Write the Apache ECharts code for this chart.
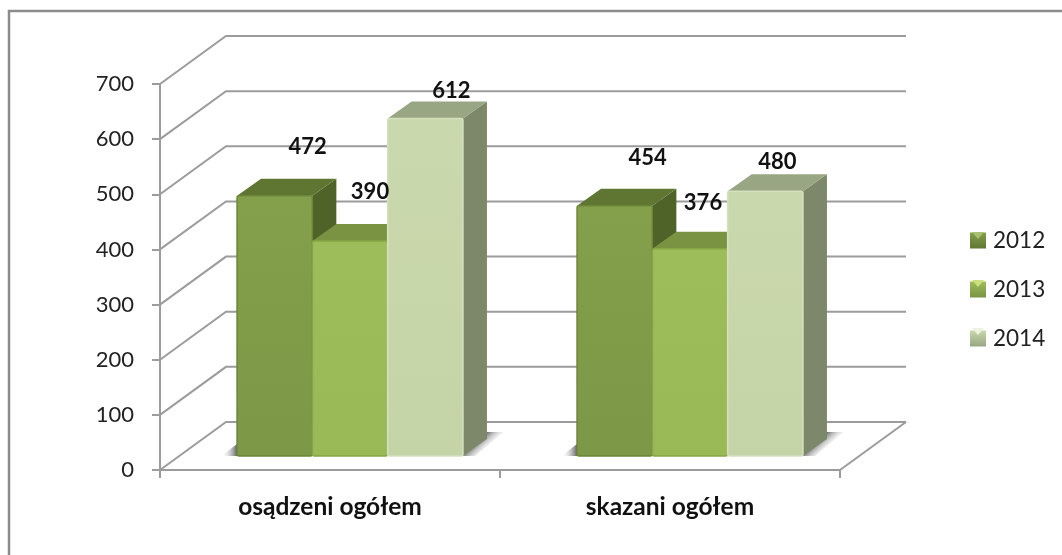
<!DOCTYPE html>
<html>
<head>
<meta charset="utf-8">
<style>
  html, body { margin: 0; padding: 0; background: #fff; }
  #chart { width: 1062px; height: 555px; }
</style>
<script src="https://cdn.jsdelivr.net/npm/echarts@6/dist/echarts.min.js"></script>
</head>
<body>
<div id="chart"></div>
<script>
const categories = ['osądzeni ogółem', 'skazani ogółem']
const years = ['2012', '2013', '2014']
const values2012 = [472, 454]
const values2013 = [390, 376]
const values2014 = [612, 480]
const yTicks = [0, 100, 200, 300, 400, 500, 600, 700]

// labels were placed by hand in the original, offset from the bar's front top centre
const labelShift = [
  [[33, -49], [33, -48]],
  [[20, -49], [13, -46]],
  [[26, -28], [12, -29]]
]

const font = 'Lato'
const lineColor = '#9C9C9C'
const wallDx = 66
const wallDy = -48
const barDx = 24
const barDy = -17
const barWidth = 75.3
const frontDx = 20 // front of the bars sits a bit into the floor
const frontDy = -14

const looks = [
  { front: ['#84A04B', '#7C9746'], edge: '#6C8639', top: '#5F7632', side: '#4F6228' },
  { front: ['#9DBD5B', '#99B956'], edge: '#86A546', top: '#7A9343', side: '#748C45' },
  { front: ['#CAD8AD', '#C5D4A6'], edge: '#D5E0BE', top: '#98A683', side: '#7D8769' }
]

function wallLines(params, api) {
  const cs = params.coordSys
  const y = api.coord([0, api.value(0)])[1]
  const x0 = cs.x
  const x1 = cs.x + cs.width
  const children = [{
    type: 'polyline',
    shape: { points: [[x0, y], [x0 + wallDx, y + wallDy], [x1 + wallDx, y + wallDy]] },
    style: { fill: null, stroke: lineColor, lineWidth: 2 }
  }]
  if (api.value(0) === 0) {
    children.push({
      type: 'line',
      shape: { x1: x1, y1: y, x2: x1 + wallDx, y2: y + wallDy },
      style: { stroke: lineColor, lineWidth: 2 }
    })
  }
  return { type: 'group', children: children }
}

function bar3d(idx) {
  const look = looks[idx]
  return function(params, api) {
    const cat = api.value(0)
    const val = api.value(1)
    const centre = api.coord([cat, 0])
    const top = api.coord([cat, val])
    const x = centre[0] + frontDx + (idx - 1.5) * barWidth
    const base = centre[1] + frontDy
    const y = top[1] + frontDy
    const r = x + barWidth
    const children = []

    // floor shadow, only seen on the outer sides of the group
    if (idx === 2) {
      children.push({
        type: 'polygon',
        shape: { points: [[r, base], [r + barDx, base + barDy - 7], [r + 41, base + barDy - 7], [r + 12, base]] },
        style: {
          fill: new echarts.graphic.LinearGradient(r + 14, base - 16, r + 25, base - 4, [
            { offset: 0, color: 'rgba(70,70,70,0.9)' },
            { offset: 1, color: 'rgba(255,255,255,0)' }
          ], true)
        }
      })
    }
    if (idx === 0) {
      children.push({
        type: 'polygon',
        shape: { points: [[x - 16, base], [x, base - 12], [x, base]] },
        style: {
          fill: new echarts.graphic.LinearGradient(x, base, x - 16, base, [
            { offset: 0, color: 'rgba(70,70,70,0.85)' },
            { offset: 1, color: 'rgba(255,255,255,0)' }
          ], true)
        }
      })
    }

    children.push({
      type: 'polygon',
      shape: { points: [[r, y], [r + barDx, y + barDy], [r + barDx, base + barDy], [r, base]] },
      style: { fill: look.side }
    })
    children.push({
      type: 'polygon',
      shape: { points: [[x, y], [x + barDx, y + barDy], [r + barDx, y + barDy], [r, y]] },
      style: { fill: look.top }
    })
    children.push({
      type: 'rect',
      shape: { x: x, y: y, width: barWidth, height: base - y, r: 2 },
      style: {
        fill: new echarts.graphic.LinearGradient(0, 0, 0, 1, [
          { offset: 0, color: look.front[0] },
          { offset: 1, color: look.front[1] }
        ]),
        stroke: look.edge,
        lineWidth: 1.5
      }
    })
    const shift = labelShift[idx][cat]
    children.push({
      type: 'text',
      z2: 100,
      style: {
        x: x + barWidth / 2 + shift[0],
        y: y + shift[1],
        text: String(val),
        font: 'bold 22px ' + font,
        fill: '#111',
        textAlign: 'center',
        textVerticalAlign: 'middle'
      }
    })
    return { type: 'group', children: children }
  }
}

function barSeries(idx, values) {
  return {
    name: years[idx],
    type: 'custom',
    clip: false,
    renderItem: bar3d(idx),
    itemStyle: { color: looks[idx].front[1] },
    encode: { x: 0, y: 1 },
    data: values.map(function(v, i) { return [i, v] })
  }
}

function legendIcon(idx) {
  return new echarts.graphic.LinearGradient(0, 0, 0, 1, [
    { offset: 0, color: looks[idx].front[0] },
    { offset: 1, color: looks[idx].top }
  ])
}

// little bevel on the legend keys
function bevel(y, color) {
  return {
    type: 'polygon',
    z: 10,
    shape: { points: [[972, y], [984, y], [978, y + 7]] },
    style: { fill: color }
  }
}

const myChart = echarts.init(document.getElementById('chart'))
myChart.setOption({
  animation: false,
  backgroundColor: '#fff',
  grid: { left: 160, right: 222, top: 84, bottom: 85, containLabel: false },
  xAxis: {
    type: 'category',
    data: categories,
    axisLine: { lineStyle: { color: lineColor, width: 2 } },
    axisTick: { show: true, length: 8, lineStyle: { color: lineColor, width: 2 } },
    axisLabel: { color: '#111', fontFamily: font, fontWeight: 'bold', fontSize: 24.5, margin: 25 }
  },
  yAxis: {
    type: 'value',
    min: 0,
    max: 700,
    interval: 100,
    axisLine: { show: true, lineStyle: { color: lineColor, width: 2 } },
    axisTick: { show: true, length: 8, lineStyle: { color: lineColor, width: 2 } },
    splitLine: { show: false },
    axisLabel: { color: '#222', fontFamily: font, fontSize: 22, margin: 26 }
  },
  legend: {
    orient: 'vertical',
    left: 965,
    top: 224,
    itemWidth: 16,
    itemHeight: 16,
    itemGap: 26,
    selectedMode: false,
    textStyle: { color: '#222', fontFamily: font, fontSize: 22.5, lineHeight: 22, padding: [0, 0, 0, 2] },
    data: years.map(function(y, i) {
      return { name: y, icon: 'rect', itemStyle: { color: legendIcon(i) } }
    })
  },
  graphic: [
    {
      type: 'polyline',
      shape: { points: [[9, 555], [9, 11], [1062, 11]] },
      style: { fill: null, stroke: '#8C8C8C', lineWidth: 2.5 }
    },
    bevel(232, '#A9C070'),
    bevel(280, '#CBE07C'),
    bevel(328, '#EDF3E0')
  ],
  series: [
    {
      type: 'custom',
      clip: false,
      silent: true,
      renderItem: wallLines,
      encode: { y: 0 },
      data: yTicks.map(function(v) { return [v] })
    },
    barSeries(0, values2012),
    barSeries(1, values2013),
    barSeries(2, values2014)
  ]
})
</script>
</body>
</html>
